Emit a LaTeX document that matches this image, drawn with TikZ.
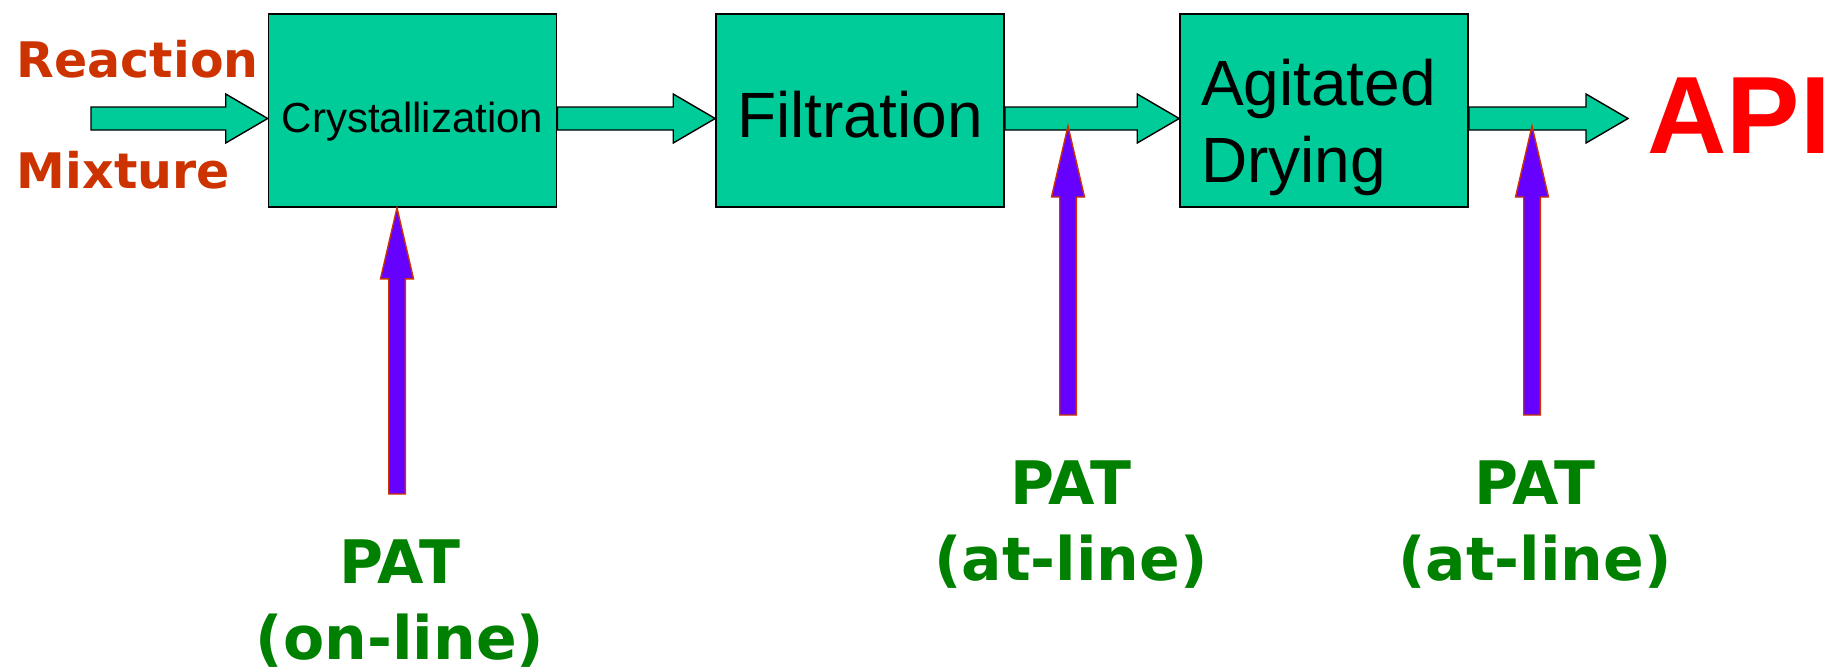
\documentclass[tikz,border=0pt]{standalone}
\usepackage{fontspec}
\setmainfont{Liberation Sans}
\newfontfamily\patfont{DejaVu Sans}
\usepackage{tikz}
\usetikzlibrary{calc,positioning}

\definecolor{unitgreen}{HTML}{00CC99}
\definecolor{feedred}{HTML}{CC3300}
\definecolor{patviolet}{HTML}{6600FF}
\definecolor{patgreen}{HTML}{008000}
\definecolor{apired}{HTML}{FF0000}

\newcommand{\flowarrow}[2]{%
  \path (#1) coordinate (fa-a) (#2) coordinate (fa-b);
  \draw [flow] ($(fa-a)+(0,-11.5)$) -- ($(fa-b)+(-42,-11.5)$) -- ($(fa-b)+(-42,-24.5)$)
    -- (fa-b) -- ($(fa-b)+(-42,24.5)$) -- ($(fa-b)+(-42,11.5)$) -- ($(fa-a)+(0,11.5)$) -- cycle;}
\newcommand{\patarrow}[2]{%
  \path (#1) coordinate (pa-a) (#2) coordinate (pa-b);
  \draw [probe] ($(pa-a)+(-8.3,0)$) -- ($(pa-b)+(-8.3,71)$) -- ($(pa-b)+(-16.5,71)$)
    -- (pa-b) -- ($(pa-b)+(16.5,71)$) -- ($(pa-b)+(8.3,71)$) -- ($(pa-a)+(8.3,0)$) -- cycle;}

\begin{document}
\begin{tikzpicture}
[ x=0.5pt, y=-0.5pt
, unit/.style={rectangle, draw, line width=0.8pt, fill=unitgreen, minimum width=144pt, minimum height=96.5pt, inner sep=0pt}
, flow/.style={draw, line width=0.7pt, fill=unitgreen}
, probe/.style={draw=feedred, line width=0.7pt, fill=patviolet}
, stream/.style={anchor=base west, inner sep=0pt, text=feedred, font=\patfont\bfseries\fontsize{24.5}{29}\selectfont}
, patlabel/.style={inner sep=0pt, xshift=1.5pt, align=center, text=patgreen, font=\patfont\bfseries\fontsize{30}{38}\selectfont}
]
\useasboundingbox (0,0) rectangle (1830,670);
% Units:
\node (crys) [unit, font=\fontsize{21}{25}\selectfont, text height=21.5pt, text depth=0pt] at (412.5,110.5) {Crystallization};
\node (filt) [unit, font=\fontsize{32}{38}\selectfont, text height=26.5pt, text depth=0pt] at (860,110.5) {Filtration};
\node (dry) [unit, font=\fontsize{32}{38.5}\selectfont, text width=123pt, align=left, text height=20pt, text depth=25.5pt] at (1324,110.5) {Agitated\\Drying};
% Streams:
\node (reaction) [stream] at (16.5,77) {Reaction};
\node (mixture) [stream] at (16.5,188) {Mixture};
\node (api) [anchor=base west, inner sep=0pt, text=apired, font=\bfseries\fontsize{55}{62}\selectfont] at (1647,153) {API};
\coordinate (feed) at (91,118.5);
\coordinate (product) at (1628,118.5);
\flowarrow{feed}{feed -| crys.west}
\flowarrow{feed -| crys.east}{feed -| filt.west}
\flowarrow{feed -| filt.east}{feed -| dry.west}
\flowarrow{feed -| dry.east}{product}
% PAT probes:
\coordinate (pin1) at (397,494);
\coordinate (pin2) at (1068,415);
\coordinate (pin3) at (1532,415);
\patarrow{pin1}{pin1 |- crys.south}
\patarrow{pin2}{$(pin2 |- feed)+(0,7.5)$}
\patarrow{pin3}{$(pin3 |- feed)+(0,7.5)$}
\node (online) [patlabel, below=22.5pt of pin1] {PAT\\(on-line)};
\node (atline1) [patlabel, below=22.5pt of pin2] {PAT\\(at-line)};
\node (atline2) [patlabel, below=22.5pt of pin3] {PAT\\(at-line)};
\end{tikzpicture}
\end{document}
